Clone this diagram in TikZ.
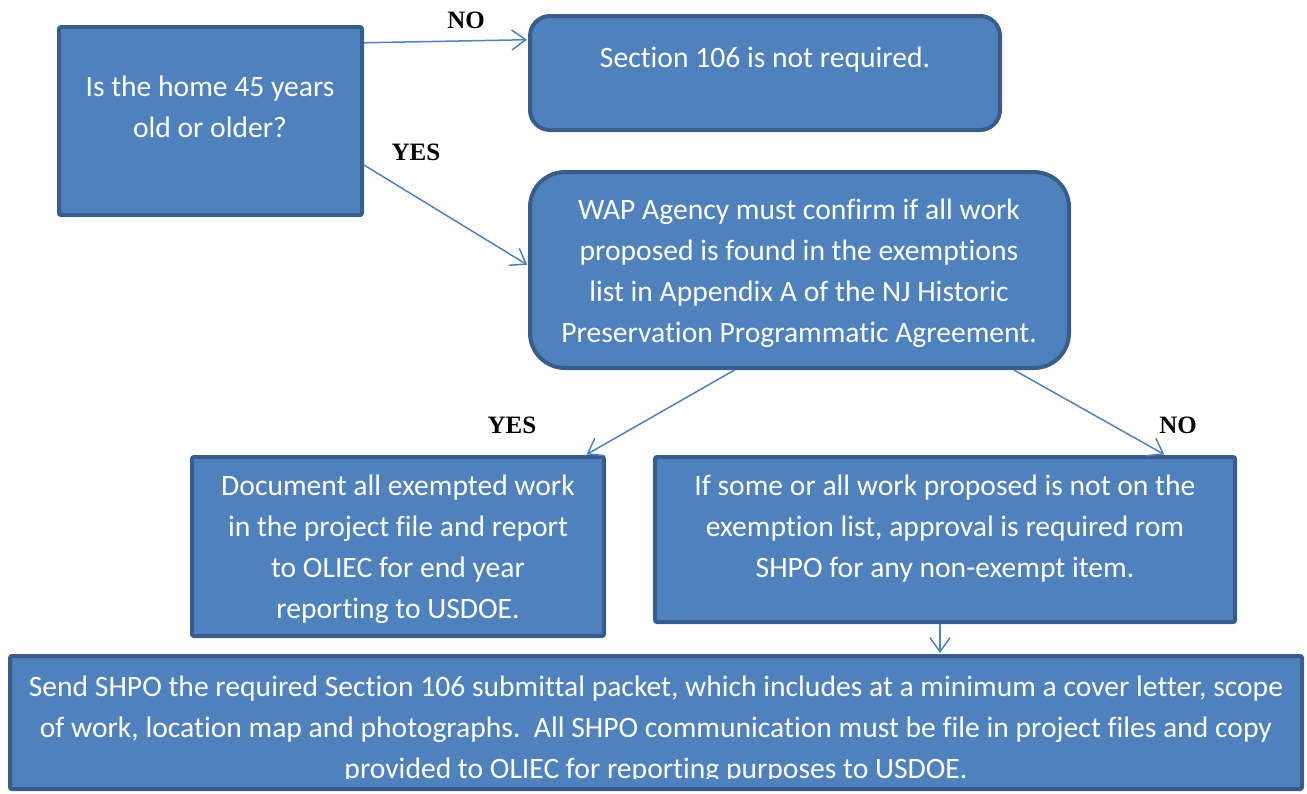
\documentclass[tikz,border=0pt]{standalone}
\usepackage{fontspec}
\setmainfont{Carlito}[Ligatures=NoCommon]
\newfontfamily\labelfont{Liberation Serif}
\usetikzlibrary{arrows.meta}
\definecolor{boxfill}{HTML}{4F81BD}
\definecolor{boxline}{HTML}{385D8A}

\begin{document}
\begin{tikzpicture}[x=1pt, y=-1pt,
  box/.style={draw=boxline, fill=boxfill, line width=4pt, inner sep=0pt},
  txt/.style={text=white, align=center, font=\fontsize{29.6}{41}\selectfont, inner sep=0pt},
  lbl/.style={font=\labelfont\bfseries\fontsize{25}{28}\selectfont, inner sep=0pt},
  arr/.style={-{Straight Barb[length=14pt, width=20pt]}, draw=boxfill, line width=1.5pt, shorten >=1pt}
]
\useasboundingbox (0,0) rectangle (1307,793);

% boxes
\node[box, rounded corners=2pt, minimum width=303pt, minimum height=188pt] (Q) at (210.5,121) {};
\node[box, rounded corners=20pt, minimum width=470pt, minimum height=114pt] (S) at (765,73) {};
\node[box, rounded corners=35pt, minimum width=539pt, minimum height=196pt] (W) at (799.5,270) {};
\node[box, rounded corners=2pt, minimum width=412pt, minimum height=179pt] (D) at (398,546.5) {};
\node[box, rounded corners=2pt, minimum width=580pt, minimum height=165pt] (N) at (945,539.5) {};
\node[box, rounded corners=2pt, minimum width=1292pt, minimum height=133pt] (B) at (656,722.5) {};

% texts
\node[txt] (Qt) at (210,107) {Is the home 45 years\\old or older?};
\node[txt] (St) at (765,60) {Section 106 is not required.};
\begin{scope}
  \clip (W.north west) rectangle ([yshift=23pt]W.south east);
  \node[txt] (Wt) at (799,273.5) {WAP Agency must confirm if all work\\proposed is found in the exemptions\\list in Appendix A of the NJ Historic\\Preservation Programmatic Agreement.};
\end{scope}
\node[txt] (Dt) at (398,549.5) {Document all exempted work\\in the project file and report\\to OLIEC for end year\\reporting to USDOE.};
\node[txt] (Nt) at (945,529) {If some or all work proposed is not on the\\exemption list, approval is required rom\\SHPO for any non-exempt item.};
\begin{scope}
  \clip (B.north west) rectangle ([yshift=13pt]B.south east);
  \node[txt] (Bt) at (656,730) {Send SHPO the required Section 106 submittal packet, which includes at a minimum a cover letter, scope\\of work, location map and photographs.\ \ All SHPO communication must be file in project files and copy\\provided to OLIEC for reporting purposes to USDOE.};
\end{scope}

% labels
\node[lbl] (no1) at (466,20) {NO};
\node[lbl] (yes1) at (416,152) {YES};
\node[lbl] (yes2) at (512,425) {YES};
\node[lbl] (no2) at (1178,425) {NO};

% arrows
\draw[arr] (Q.27) -- (S.172);
\draw[arr] (Q.-16) -- (W.179);
\draw[arr] (W.237) -- (D.26);
\draw[arr] (W.-25) -- (N.21);
\draw[arr] ([xshift=-5pt]N.south) -- ([xshift=-5pt]N.south |- B.north);
\end{tikzpicture}
\end{document}
